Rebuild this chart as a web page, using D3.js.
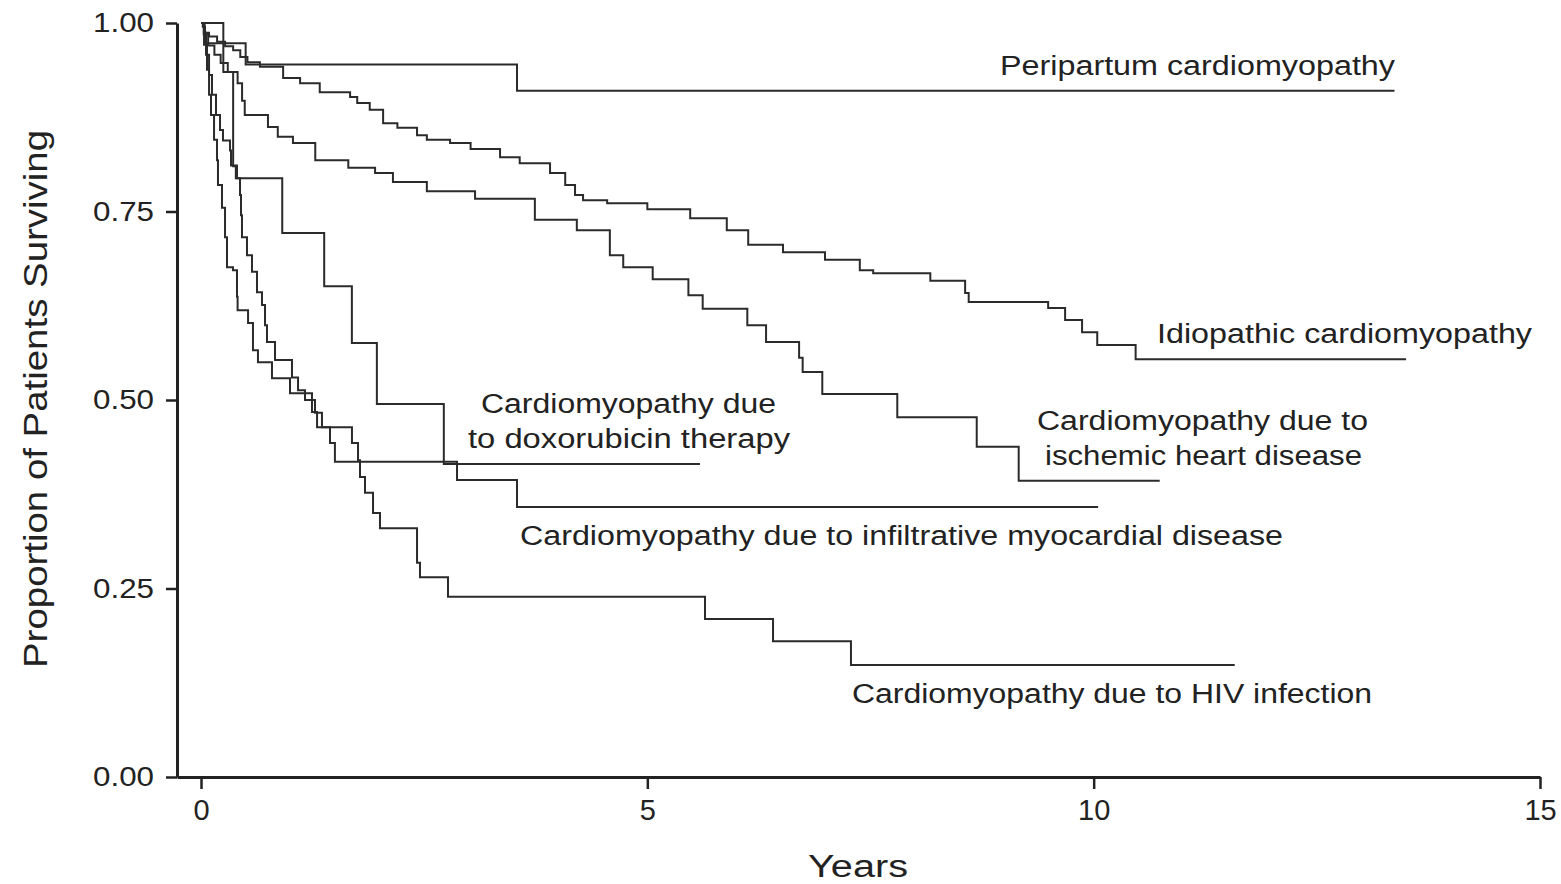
<!DOCTYPE html>
<html>
<head>
<meta charset="utf-8">
<script src="https://cdn.jsdelivr.net/npm/d3@7"></script>
<style>
  html, body { margin: 0; padding: 0; background: #fff; }
  svg { display: block; }
  text { font-family: "Liberation Sans", Arial, sans-serif; fill: #222; }
</style>
</head>
<body>
<svg id="chart" width="1561" height="884"></svg>
<script>
// ---- Data (Kaplan-Meier steps: [event time in years, survival after event]) ----
const yTicks = [0, 0.25, 0.5, 0.75, 1.0];
const xTicks = [0, 5, 10, 15];

const peripartumSteps = [[0,1.0],[0.04,0.973],[0.50,0.945],[3.54,0.910]];
const peripartumEnd = 13.37;

const idiopathicSteps = [[0,1.0],[0.02,0.995],[0.045,0.987],[0.09,0.982],[0.18,0.975],[0.27,0.969],[0.36,0.964],[0.44,0.955],[0.52,0.948],[0.66,0.942],[0.92,0.927],[1.11,0.920],[1.33,0.908],[1.67,0.902],[1.75,0.894],[1.89,0.885],[2.04,0.867],[2.20,0.861],[2.42,0.851],[2.53,0.845],[2.79,0.841],[3.02,0.833],[3.35,0.822],[3.57,0.814],[3.91,0.801],[4.08,0.785],[4.19,0.772],[4.28,0.765],[4.55,0.761],[5.00,0.753],[5.48,0.741],[5.89,0.725],[6.13,0.706],[6.52,0.696],[6.99,0.686],[7.38,0.672],[7.53,0.668],[8.17,0.658],[8.56,0.642],[8.60,0.630],[9.49,0.622],[9.68,0.606],[9.87,0.590],[10.04,0.573],[10.47,0.554]];
const idiopathicEnd = 13.50;

const ischemicSteps = [[0,1.0],[0.03,0.985],[0.08,0.97],[0.15,0.958],[0.22,0.947],[0.30,0.935],[0.41,0.92],[0.46,0.897],[0.49,0.878],[0.75,0.862],[0.86,0.849],[1.03,0.841],[1.28,0.818],[1.65,0.808],[1.95,0.801],[2.15,0.789],[2.53,0.777],[3.07,0.767],[3.74,0.739],[4.21,0.725],[4.58,0.692],[4.73,0.676],[5.06,0.660],[5.46,0.639],[5.62,0.621],[6.12,0.599],[6.33,0.577],[6.70,0.556],[6.74,0.537],[6.96,0.508],[7.80,0.477],[8.69,0.438],[9.16,0.393]];
const ischemicEnd = 10.74;

const doxorubicinSteps = [[0,1.0],[0.25,0.935],[0.36,0.81],[0.39,0.794],[0.91,0.7215],[1.38,0.651],[1.69,0.5756],[1.97,0.4947],[2.72,0.415]];
const doxorubicinEnd = 5.59;

const infiltrativeSteps = [[0,1.0],[0.034,0.971],[0.067,0.938],[0.090,0.905],[0.112,0.878],[0.146,0.845],[0.179,0.818],[0.19,0.785],[0.235,0.755],[0.269,0.716],[0.291,0.676],[0.358,0.672],[0.403,0.637],[0.41,0.619],[0.527,0.602],[0.582,0.566],[0.638,0.550],[0.795,0.529],[0.997,0.509],[1.243,0.484],[1.30,0.464],[1.445,0.443],[1.50,0.418],[2.868,0.394],[3.54,0.358]];
const infiltrativeEnd = 10.05;

const hivSteps = [[0,1.0],[0.034,0.987],[0.056,0.958],[0.090,0.931],[0.123,0.905],[0.168,0.878],[0.213,0.858],[0.246,0.844],[0.325,0.831],[0.336,0.811],[0.403,0.794],[0.437,0.772],[0.448,0.745],[0.459,0.716],[0.515,0.692],[0.571,0.670],[0.627,0.643],[0.683,0.626],[0.717,0.599],[0.739,0.577],[0.829,0.553],[1.019,0.530],[1.087,0.513],[1.165,0.500],[1.277,0.483],[1.355,0.464],[1.691,0.443],[1.759,0.420],[1.781,0.398],[1.837,0.377],[1.927,0.350],[2.005,0.330],[2.420,0.284],[2.453,0.265],[2.767,0.239],[5.646,0.2095],[6.408,0.180],[7.281,0.1485]];
const hivEnd = 11.58;

const seriesNames = ["Peripartum cardiomyopathy","Idiopathic cardiomyopathy","Cardiomyopathy due to ischemic heart disease","Cardiomyopathy due to doxorubicin therapy","Cardiomyopathy due to infiltrative myocardial disease","Cardiomyopathy due to HIV infection"];
const seriesSteps = [peripartumSteps, idiopathicSteps, ischemicSteps, doxorubicinSteps, infiltrativeSteps, hivSteps];
const seriesEnds = [peripartumEnd, idiopathicEnd, ischemicEnd, doxorubicinEnd, infiltrativeEnd, hivEnd];

// Label texts (lines), placed near curves
const labelLines = [
  ["Peripartum cardiomyopathy"],
  ["Idiopathic cardiomyopathy"],
  ["Cardiomyopathy due to", "ischemic heart disease"],
  ["Cardiomyopathy due", "to doxorubicin therapy"],
  ["Cardiomyopathy due to infiltrative myocardial disease"],
  ["Cardiomyopathy due to HIV infection"]
];

// ---- Layout ----
const svg = d3.select("#chart");
const x = d3.scaleLinear().domain([-0.269, 15]).range([177, 1540]);
const y = d3.scaleLinear().domain([0, 1]).range([777, 23]);

// label layout: [x, baseline y, width] per line
const labelLayout = [
  [[1000, 75, 395]],
  [[1157, 343, 375]],
  [[1037, 430, 331], [1045, 465, 317]],
  [[481, 413, 295], [468, 448, 322]],
  [[520, 545, 763]],
  [[852, 703, 520]]
];

// ---- Curves ----
const line = d3.line().x(d => x(d[0])).y(d => y(d[1])).curve(d3.curveStepAfter);
seriesSteps.forEach((steps, i) => {
  const pts = steps.concat([[seriesEnds[i], steps[steps.length - 1][1]]]);
  svg.append("path")
    .attr("d", line(pts))
    .attr("fill", "none")
    .attr("stroke", "#2b2b2b")
    .attr("stroke-width", 2);
});

// ---- Axes ----
const yAxis = d3.axisLeft(y).tickValues(yTicks).tickFormat(d3.format(".2f")).tickSize(11).tickSizeOuter(0).tickPadding(12);
const gy = svg.append("g").attr("transform", "translate(177,0)").call(yAxis);
gy.select(".domain").attr("stroke", "#222").attr("stroke-width", 3);
gy.selectAll(".tick line").attr("stroke", "#222").attr("stroke-width", 2.5);
gy.selectAll(".tick text").attr("font-size", 27).attr("fill", "#222")
  .attr("font-family", "'Liberation Sans', Arial, sans-serif")
  .attr("textLength", 61).attr("lengthAdjust", "spacingAndGlyphs");

const xAxis = d3.axisBottom(x).tickValues(xTicks).tickFormat(d3.format("d")).tickSize(12).tickSizeOuter(0).tickPadding(10);
const gx = svg.append("g").attr("transform", "translate(0,777)").call(xAxis);
gx.select(".domain").attr("stroke", "#222").attr("stroke-width", 3);
gx.selectAll(".tick line").attr("stroke", "#222").attr("stroke-width", 2.5);
gx.selectAll(".tick text").attr("font-size", 29).attr("fill", "#222")
  .attr("font-family", "'Liberation Sans', Arial, sans-serif");

// Axis titles
svg.append("text").attr("x", 858).attr("y", 877).attr("text-anchor", "middle")
  .attr("font-size", 31).attr("textLength", 100).attr("lengthAdjust", "spacingAndGlyphs")
  .text("Years");
svg.append("text").attr("transform", "translate(47,399) rotate(-90)").attr("text-anchor", "middle")
  .attr("font-size", 33).attr("textLength", 538).attr("lengthAdjust", "spacingAndGlyphs")
  .text("Proportion of Patients Surviving");

// Curve labels
labelLines.forEach((lines, i) => {
  lines.forEach((t, j) => {
    const [lx, ly, lw] = labelLayout[i][j];
    svg.append("text").attr("x", lx).attr("y", ly)
      .attr("font-size", 27).attr("textLength", lw).attr("lengthAdjust", "spacingAndGlyphs")
      .text(t);
  });
});
</script>
</body>
</html>
